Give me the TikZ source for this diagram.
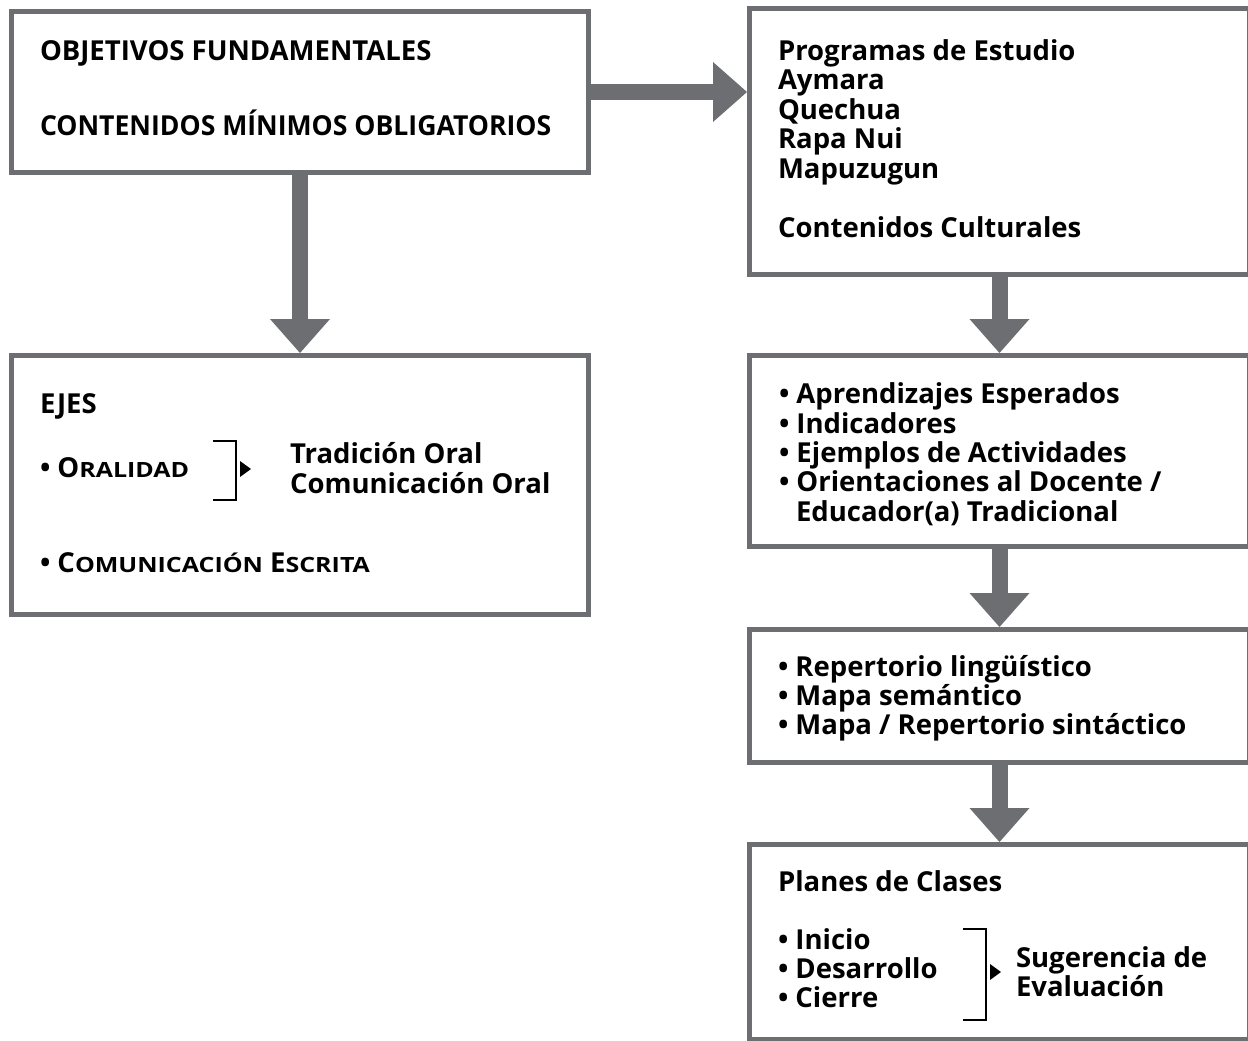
\documentclass[tikz,border=0pt]{standalone}
\usepackage{fontspec}
\setmainfont{Open Sans}
\usetikzlibrary{arrows.meta}
\definecolor{boxgray}{HTML}{6D6E71}
\definecolor{ink}{HTML}{000000}
\newcommand{\bigf}{\fontsize{27.5}{29.5}\selectfont\bfseries}
\newcommand{\scf}{\fontsize{21}{24}\selectfont\addfontfeature{FakeStretch=1.19}}
\newcommand{\narrowf}{\addfontfeature{FakeStretch=0.967}}
\tikzset{
  box/.style={draw=boxgray, line width=5pt, fill=white, inner sep=0pt},
  txt/.style={anchor=base west, inner sep=0pt, outer sep=0pt, text=ink, font=\bigf},
  bigarrow/.style={draw=boxgray, line width=16pt, -{Triangle[length=34pt,width=60pt,line width=0pt]}},
  brk/.style={draw=ink, line width=1.3pt},
  tri/.style={fill=ink, draw=none}
}
\begin{document}
\begin{tikzpicture}[x=1pt,y=-1pt]
\useasboundingbox (0,0) rectangle (1248,1041);
% boxes
\node[box, minimum width=577pt, minimum height=161pt] (b1) at (300,92) {};
\node[box, minimum width=577pt, minimum height=259pt] (b2) at (300,485) {};
\node[box, minimum width=500pt, minimum height=266pt] (r1) at (999.5,141.5) {};
\node[box, minimum width=500pt, minimum height=191pt] (r2) at (999.5,451) {};
\node[box, minimum width=500pt, minimum height=133pt] (r3) at (999.5,696) {};
\node[box, minimum width=500pt, minimum height=194.5pt] (r4) at (999.5,941.75) {};
% arrows
\draw[bigarrow] (b1.east) -- (b1.east -| r1.west);
\draw[bigarrow] (b1.south) -- (b2.north);
\draw[bigarrow] (r1.south) -- (r2.north);
\draw[bigarrow] (r2.south) -- (r3.north);
\draw[bigarrow] (r3.south) -- (r4.north);
% box 1 text
\node[txt] (t1) at (40,61) {OBJETIVOS FUNDAMENTALES};
\node[txt] (t2) at (40,135) {\narrowf CONTENIDOS MÍNIMOS OBLIGATORIOS};
% box 2 text
\node[txt] (t3) at (40,413) {EJES};
\node[txt] (t4) at (40,477) {• O{\scf RALIDAD}};
\node[txt] (t5) at (290,463.5) {Tradición Oral};
\node[txt] (t6) at (290,493) {Comunicación Oral};
\node[txt] (t7) at (40,572.5) {• C{\scf OMUNICACIÓN} E{\scf SCRITA}};
\draw[brk] (213,441) -- (236,441) -- (236,500) -- (213,500);
\fill[tri] (240,461) -- (251,469) -- (240,477) -- cycle;
% r1 text
\node[txt] (u1) at (778,60) {Programas de Estudio};
\node[txt] (u2) at (778,89.5) {Aymara};
\node[txt] (u3) at (778,119) {Quechua};
\node[txt] (u4) at (778,148.5) {Rapa Nui};
\node[txt] (u5) at (778,178) {Mapuzugun};
\node[txt] (u6) at (778,237) {Contenidos Culturales};
% r2 text
\node[txt] (v1) at (779,403) {• Aprendizajes Esperados};
\node[txt] (v2) at (779,433) {• Indicadores};
\node[txt] (v3) at (779,462) {• Ejemplos de Actividades};
\node[txt] (v4) at (779,491) {• Orientaciones al Docente /};
\node[txt] (v5) at (796,521) {Educador(a) Tradicional};
% r3 text
\node[txt] (w1) at (778,676) {• Repertorio lingüístico};
\node[txt] (w2) at (778,705) {• Mapa semántico};
\node[txt] (w3) at (778,734) {• Mapa / Repertorio sintáctico};
% r4 text
\node[txt] (x1) at (778,891) {Planes de Clases};
\node[txt] (x2) at (778,949.5) {• Inicio};
\node[txt] (x3) at (778,978.5) {• Desarrollo};
\node[txt] (x4) at (778,1007.5) {• Cierre};
\node[txt] (x5) at (1016,967) {Sugerencia de};
\node[txt] (x6) at (1016,996) {Evaluación};
\draw[brk] (963,929) -- (986,929) -- (986,1020) -- (963,1020);
\fill[tri] (990,964) -- (1001,972) -- (990,980) -- cycle;
\end{tikzpicture}
\end{document}
